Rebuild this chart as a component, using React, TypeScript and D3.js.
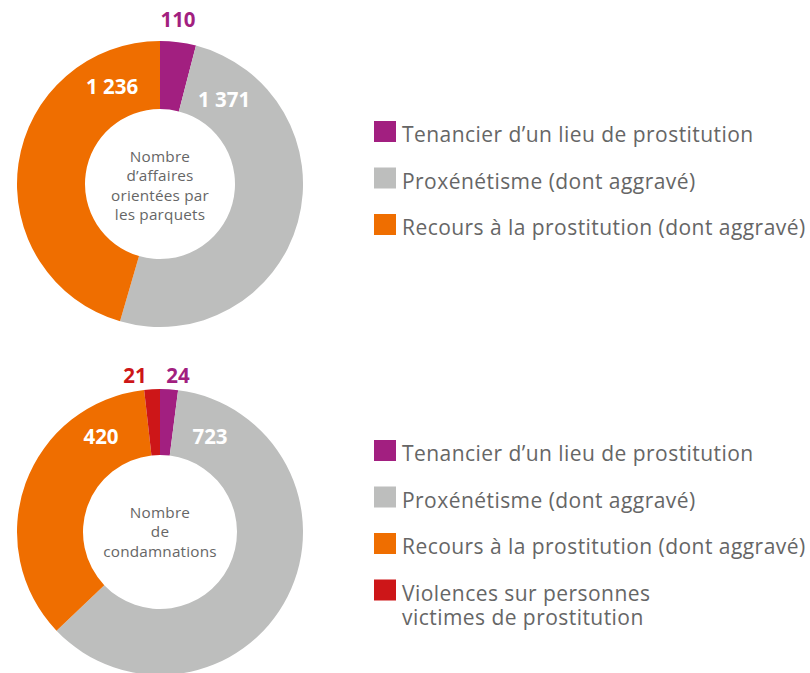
import React from "react";
import * as d3 from "d3";

const topCategories = ["Tenancier d\u2019un lieu de prostitution", "Proxénétisme (dont aggravé)", "Recours à la prostitution (dont aggravé)"];
const topValues = [110, 1371, 1236];
const topLabels = ["110", "1 371", "1 236"];
const topCenter = ["Nombre", "d\u2019affaires", "orientées par", "les parquets"];

const bottomCategories = ["Tenancier d\u2019un lieu de prostitution", "Proxénétisme (dont aggravé)", "Recours à la prostitution (dont aggravé)", "Violences sur personnes|victimes de prostitution"];
const bottomValues = [24, 723, 420, 21];
const bottomLabels = ["24", "723", "420", "21"];
const bottomCenter = ["Nombre", "de", "condamnations"];

const colors = ["#A21F80", "#BDBEBD", "#EF6E00", "#CD1618"];

const FONT = "'Open Sans', 'DejaVu Sans', sans-serif";
const TEXT = "#666666";

type LabelPos = { x: number; y: number; color: string };

function Donut({ cx, cy, values, labels, center, labelPos, innerR, centerY0 }:
  { cx: number; cy: number; values: number[]; labels: string[]; center: string[]; labelPos: LabelPos[]; innerR: number; centerY0: number }) {
  const pie = d3.pie<number>().sort(null).value(d => d)(values);
  const arc = d3.arc<d3.PieArcDatum<number>>().innerRadius(innerR).outerRadius(143);
  return (
    <g>
      <g transform={`translate(${cx},${cy})`}>
        {pie.map((p, i) => (
          <path key={i} d={arc(p) || ""} fill={colors[i]} />
        ))}
        {center.map((t, i) => (
          <text key={i} x={0} y={centerY0 + i * 19.3} textAnchor="middle" fontFamily={FONT} fontSize={15.3} letterSpacing={0.2} fill={TEXT}>{t}</text>
        ))}
      </g>
      {labels.map((t, i) => (
        <text key={i} x={labelPos[i].x} y={labelPos[i].y} textAnchor="middle" fontFamily={FONT} fontWeight={700} fontSize={20.5} fill={labelPos[i].color}>{t}</text>
      ))}
    </g>
  );
}

function Legend({ x, y0, cats, step }: { x: number; y0: number; cats: string[]; step: number }) {
  return (
    <g>
      {cats.map((c, i) => {
        const lines = c.split("|");
        const y = y0 + i * step;
        return (
          <g key={i}>
            <rect x={x} y={y} width={22} height={21} fill={colors[i]} />
            <text x={x + 28} y={y + 21} fontFamily={FONT} fontSize={21} letterSpacing={0.45} fill={TEXT}>
              {lines.map((l, j) => (
                <tspan key={j} x={x + 28} dy={j === 0 ? 0 : 24}>{l}</tspan>
              ))}
            </text>
          </g>
        );
      })}
    </g>
  );
}

export default function App() {
  return (
    <svg width={810} height={673} style={{ position: "absolute", left: 0, top: 0, background: "#fff" }}>
      <Donut cx={160} cy={184} values={topValues} labels={topLabels} center={topCenter} innerR={75} centerY0={-22}
        labelPos={[
          { x: 178, y: 27, color: colors[0] },
          { x: 224, y: 107, color: "#fff" },
          { x: 112, y: 94, color: "#fff" },
        ]} />
      <Donut cx={160} cy={532} values={bottomValues} labels={bottomLabels} center={bottomCenter} innerR={77} centerY0={-14}
        labelPos={[
          { x: 178, y: 383, color: colors[0] },
          { x: 210, y: 444, color: "#fff" },
          { x: 101, y: 444, color: "#fff" },
          { x: 135, y: 383, color: colors[3] },
        ]} />
      <Legend x={374} y0={121} cats={topCategories} step={46.5} />
      <Legend x={374} y0={440} cats={bottomCategories} step={46.5} />
    </svg>
  );
}
